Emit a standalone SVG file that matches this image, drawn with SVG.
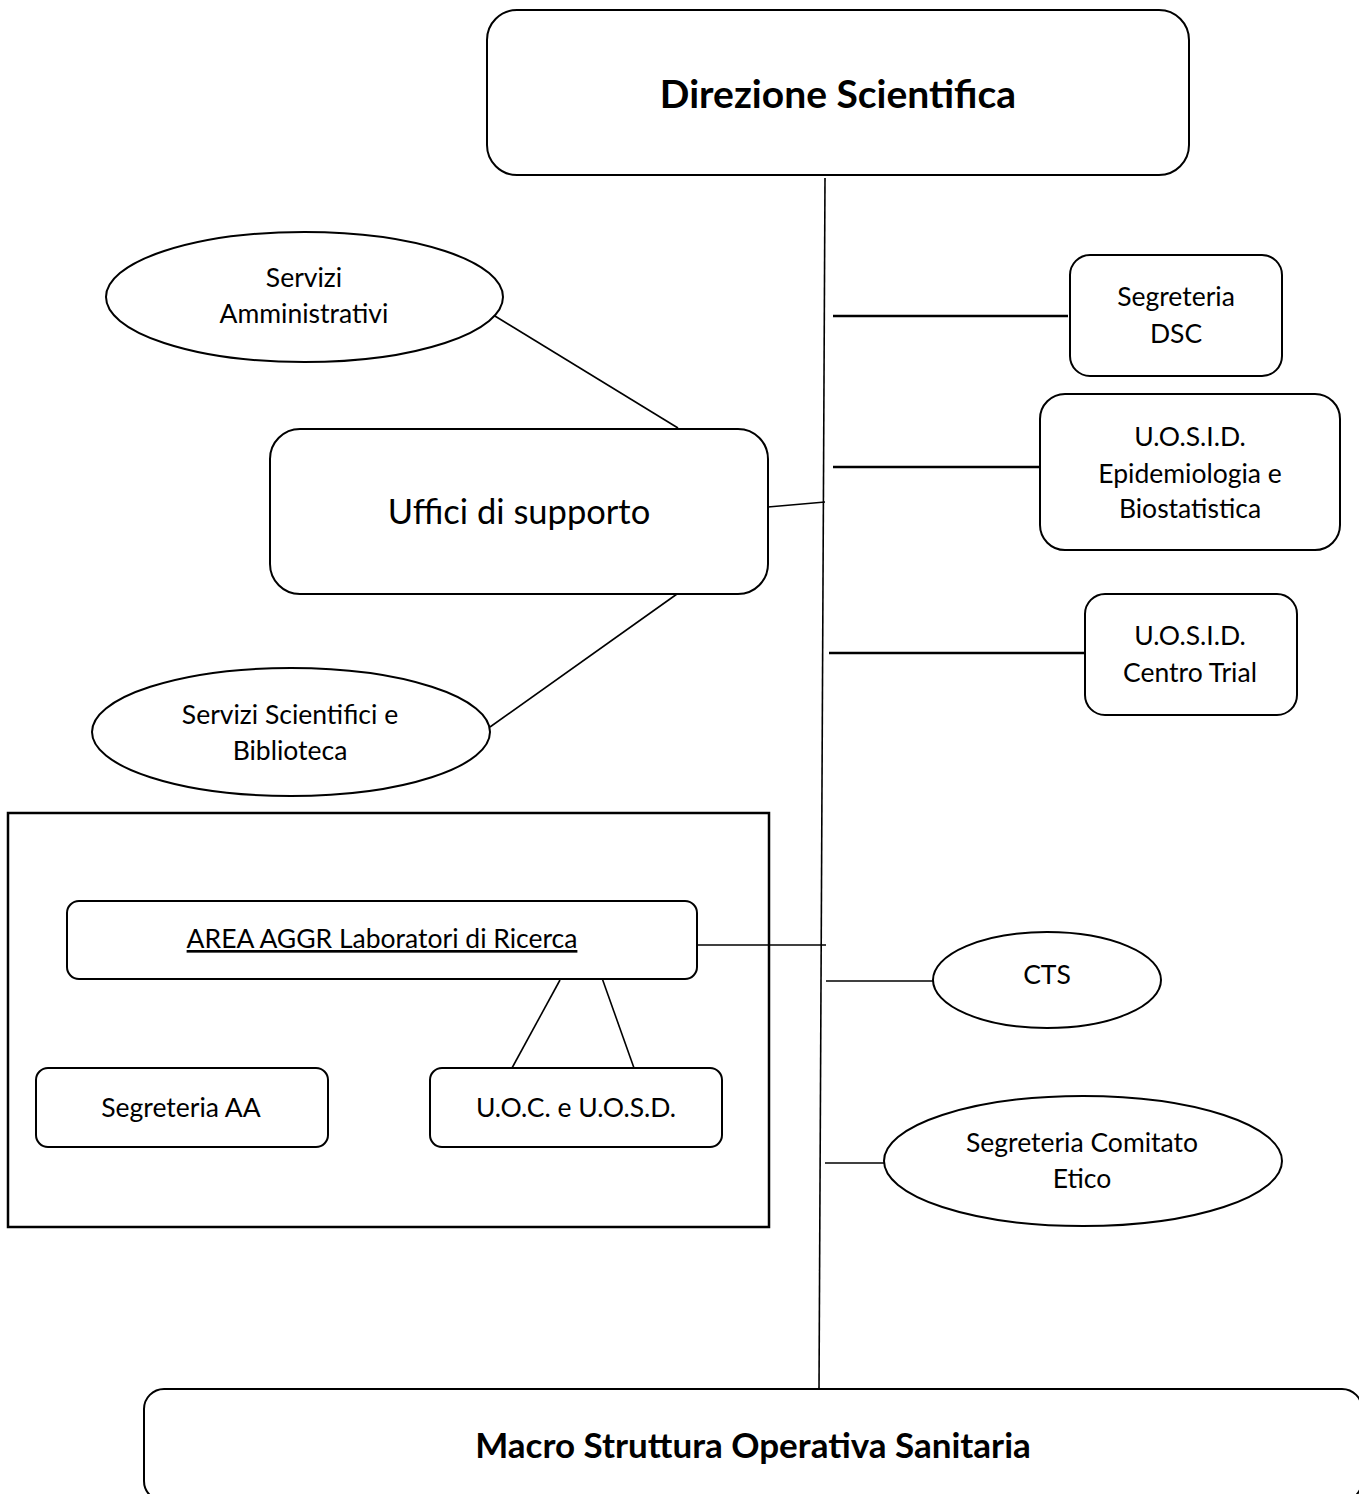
<svg xmlns="http://www.w3.org/2000/svg" width="1359" height="1494" viewBox="0 0 1359 1494">
  <style>
    .box { fill: #ffffff; stroke: #000000; stroke-width: 2; }
    .frame { fill: none; stroke: #000000; stroke-width: 2.5; }
    .wire { stroke: #000000; stroke-width: 1.6; fill: none; }
    .tie { stroke: #000000; stroke-width: 2.6; fill: none; }
    text { font-family: Lato, "Open Sans", "Liberation Sans", sans-serif; fill: #000000; text-anchor: middle; }
    .lbl { font-size: 26.5px; }
    .big { font-size: 34.5px; }
    .head { font-weight: bold; }
  </style>

  <rect width="1359" height="1494" fill="#ffffff"/>

  <!-- connectors -->
  <g id="connectors">
    <line class="wire" x1="825" y1="178" x2="819" y2="1390"/>
    <line class="tie" x1="833" y1="316" x2="1068" y2="316"/>
    <line class="tie" x1="833" y1="467" x2="1041" y2="467"/>
    <line class="tie" x1="829" y1="653" x2="1085" y2="653"/>
    <line class="wire" x1="826" y1="981" x2="933" y2="981"/>
    <line class="wire" x1="825" y1="1163" x2="885" y2="1163"/>
    <line class="wire" x1="697" y1="945" x2="826" y2="945"/>
    <line class="wire" x1="768" y1="507" x2="825" y2="502"/>
    <line class="wire" x1="490" y1="313" x2="678" y2="428"/>
    <line class="wire" x1="490" y1="727" x2="677" y2="594"/>
    <line class="wire" x1="560" y1="980" x2="512" y2="1068"/>
    <line class="wire" x1="602" y1="978" x2="634" y2="1068"/>
  </g>

  <g id="direzione">
    <rect class="box" x="487" y="10" width="702" height="165" rx="30"/>
    <text class="head" x="838" y="108" font-size="39">Direzione Scientifica</text>
  </g>

  <g id="servizi-amministrativi">
    <ellipse class="box" cx="304.5" cy="297" rx="198.5" ry="65"/>
    <text class="lbl" x="304" y="287">Servizi</text>
    <text class="lbl" x="304" y="323">Amministrativi</text>
  </g>

  <g id="uffici">
    <rect class="box" x="270" y="429" width="498" height="165" rx="30"/>
    <text class="big" x="519" y="524">Uffici di supporto</text>
  </g>

  <g id="servizi-scientifici">
    <ellipse class="box" cx="291" cy="732" rx="199" ry="64"/>
    <text class="lbl" x="290" y="724">Servizi Scientifici e</text>
    <text class="lbl" x="290" y="760">Biblioteca</text>
  </g>

  <g id="segreteria-dsc">
    <rect class="box" x="1070" y="255" width="212" height="121" rx="20"/>
    <text class="lbl" x="1176" y="306">Segreteria</text>
    <text class="lbl" x="1176" y="343">DSC</text>
  </g>

  <g id="epidemiologia">
    <rect class="box" x="1040" y="394" width="300" height="156" rx="25"/>
    <text class="lbl" x="1190" y="446">U.O.S.I.D.</text>
    <text class="lbl" x="1190" y="483">Epidemiologia e</text>
    <text class="lbl" x="1190" y="518">Biostatistica</text>
  </g>

  <g id="centro-trial">
    <rect class="box" x="1085" y="594" width="212" height="121" rx="20"/>
    <text class="lbl" x="1190" y="645">U.O.S.I.D.</text>
    <text class="lbl" x="1190" y="682">Centro Trial</text>
  </g>

  <g id="area-laboratori">
    <rect class="frame" x="8" y="813" width="761" height="414"/>
    <g id="area-aggr">
      <rect class="box" x="67" y="901" width="630" height="78" rx="12"/>
      <text class="lbl" x="382" y="948" text-decoration="underline">AREA AGGR Laboratori di Ricerca</text>
    </g>
    <g id="segreteria-aa">
      <rect class="box" x="36" y="1068" width="292" height="79" rx="12"/>
      <text class="lbl" x="181" y="1117">Segreteria AA</text>
    </g>
    <g id="uoc-uosd">
      <rect class="box" x="430" y="1068" width="292" height="79" rx="12"/>
      <text class="lbl" x="576" y="1117">U.O.C. e U.O.S.D.</text>
    </g>
  </g>

  <g id="cts">
    <ellipse class="box" cx="1047" cy="980" rx="114" ry="48"/>
    <text class="lbl" x="1047" y="984">CTS</text>
  </g>

  <g id="comitato-etico">
    <ellipse class="box" cx="1083" cy="1161" rx="199" ry="65"/>
    <text class="lbl" x="1082" y="1152">Segreteria Comitato</text>
    <text class="lbl" x="1082" y="1188">Etico</text>
  </g>

  <g id="macro-struttura">
    <rect class="box" x="144" y="1389" width="1218" height="112" rx="20"/>
    <text class="head" x="753" y="1458" font-size="35">Macro Struttura Operativa Sanitaria</text>
  </g>
</svg>
